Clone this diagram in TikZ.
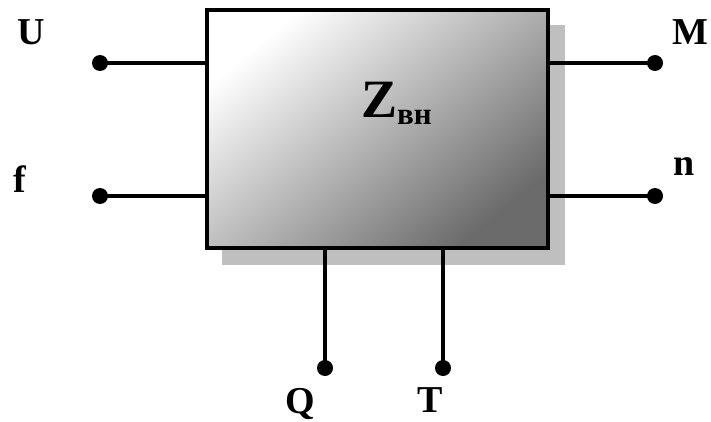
\documentclass[tikz,border=0pt]{standalone}
\usepackage{fontspec}
\setmainfont{Liberation Serif}
\begin{document}
\begin{tikzpicture}[x=1pt,y=1pt,
  wire/.style={line width=3.5pt},
  term/.style={circle,fill=black,inner sep=0pt,minimum size=16pt},
  lbl/.style={font=\bfseries\fontsize{38}{42}\selectfont,inner sep=0pt},
  blockbox/.style={draw=black,line width=3.5pt,minimum width=341pt,minimum height=238pt,inner sep=0pt,
    shading=axis,top color=white,bottom color=black!58,shading angle=40}]
\useasboundingbox (0,0) rectangle (711,421);
% shadow
\fill[black!25] (222,156) rectangle (565,396);
% block
\node[blockbox] (box) at (377.5,292) {};
\node[anchor=base west,inner sep=0pt,font=\bfseries] (z) at (361,303)
  {{\fontsize{54}{58}\selectfont Z}{\fontsize{31}{34}\selectfont\raisebox{-7pt}{вн}}};
% terminals
\node[term] (tu) at (100,358) {};
\node[term] (tf) at (100,225) {};
\node[term] (tm) at (655,358) {};
\node[term] (tn) at (655,225) {};
\node[term] (tq) at (325,53) {};
\node[term] (tt) at (443,53) {};
\draw[wire] (tu.center) -- (box.west |- tu);
\draw[wire] (tf.center) -- (box.west |- tf);
\draw[wire] (tm.center) -- (box.east |- tm);
\draw[wire] (tn.center) -- (box.east |- tn);
\draw[wire] (tq.center) -- (box.south -| tq);
\draw[wire] (tt.center) -- (box.south -| tt);
% labels
\node[lbl] (lu) at (31,389) {U};
\node[lbl] (lf) at (20,242) {f};
\node[lbl] (lm) at (690,389) {M};
\node[lbl] (ln) at (684,254) {n};
\node[lbl] (lq) at (300,17) {Q};
\node[lbl] (lt) at (430,21) {T};
\end{tikzpicture}
\end{document}
